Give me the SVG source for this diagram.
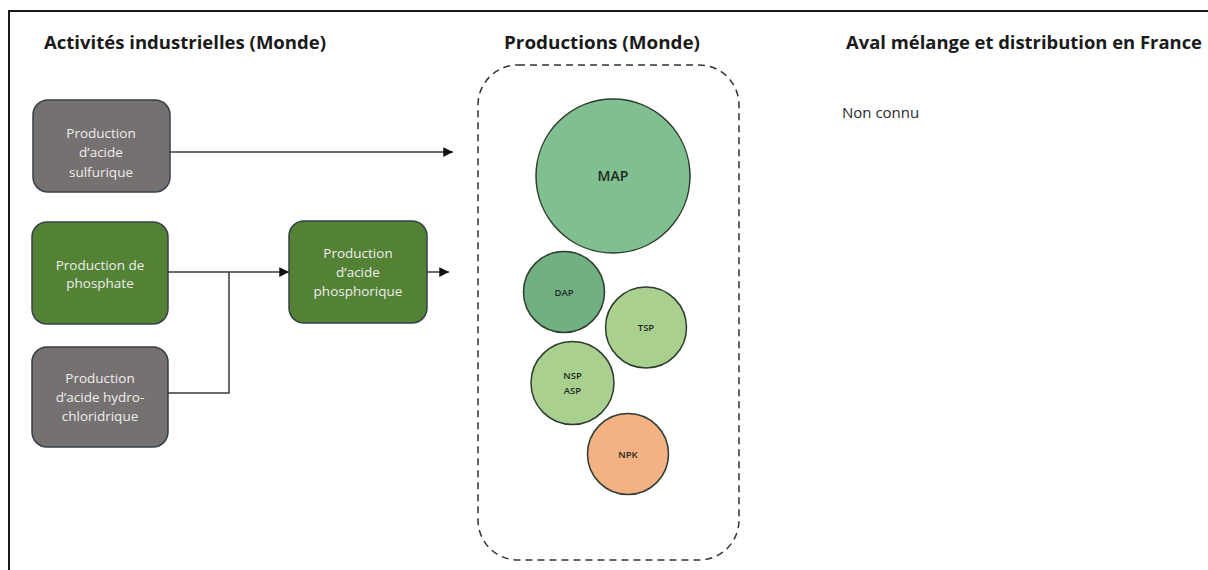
<svg xmlns="http://www.w3.org/2000/svg" width="1208" height="570" viewBox="0 0 1208 570">
  <style>
    .title { font-family: "Open Sans", "Liberation Sans", sans-serif; font-weight: bold; font-size: 18px; fill: #1a1a1a; }
    .box { stroke: #36404a; stroke-width: 1.5; }
    .gray { fill: #767171; }
    .green { fill: #548235; }
    .btxt { font-family: "Open Sans", "Liberation Sans", sans-serif; font-size: 13.5px; fill: #ededed; text-anchor: middle; }
    .circ { stroke: #2e3b30; stroke-width: 1.5; }
    .ctxt { font-family: "Open Sans", "Liberation Sans", sans-serif; font-weight: 600; fill: #1e2a1e; text-anchor: middle; }
    .conn { fill: none; stroke: #3a3a3a; stroke-width: 1.5; }
    .note { font-family: "Open Sans", "Liberation Sans", sans-serif; font-size: 15px; fill: #2a2a2a; }
  </style>
  <defs>
    <marker id="arrow" viewBox="0 0 10 10" refX="10" refY="5" markerWidth="6.5" markerHeight="6.5" orient="auto" markerUnits="strokeWidth">
      <path d="M0,0 L10,5 L0,10 z" fill="#111"/>
    </marker>
  </defs>
  <rect width="1208" height="570" fill="#ffffff"/>
  <path d="M9,570 L9,11 L1208,11" fill="none" stroke="#1a1a1a" stroke-width="2"/>

  <g id="titles">
    <text class="title" x="44" y="49" textLength="282" lengthAdjust="spacingAndGlyphs">Activités industrielles (Monde)</text>
    <text class="title" x="504" y="49" textLength="196" lengthAdjust="spacingAndGlyphs">Productions (Monde)</text>
    <text class="title" x="846" y="49" textLength="356" lengthAdjust="spacingAndGlyphs">Aval mélange et distribution en France</text>
  </g>

  <g id="connectors">
    <path class="conn" d="M170,152 L453,152" marker-end="url(#arrow)"/>
    <path class="conn" d="M168,272 L289,272" marker-end="url(#arrow)"/>
    <path class="conn" d="M168,393 L229,393 L229,272"/>
    <path class="conn" d="M427,272 L449,272" marker-end="url(#arrow)"/>
  </g>

  <g id="node-sulfurique">
    <rect class="box gray" x="33" y="100" width="137" height="92" rx="15"/>
    <text class="btxt" x="101" y="138">Production</text>
    <text class="btxt" x="101" y="157">d’acide</text>
    <text class="btxt" x="101" y="177">sulfurique</text>
  </g>
  <g id="node-phosphate">
    <rect class="box green" x="32" y="222" width="136" height="102" rx="15"/>
    <text class="btxt" x="100" y="270">Production de</text>
    <text class="btxt" x="100" y="288">phosphate</text>
  </g>
  <g id="node-hydrochloridique">
    <rect class="box gray" x="32" y="347" width="136" height="100" rx="15"/>
    <text class="btxt" x="100" y="383">Production</text>
    <text class="btxt" x="100" y="402">d’acide hydro-</text>
    <text class="btxt" x="100" y="421">chloridrique</text>
  </g>
  <g id="node-phosphorique">
    <rect class="box green" x="289" y="221" width="138" height="102" rx="15"/>
    <text class="btxt" x="358" y="258">Production</text>
    <text class="btxt" x="358" y="277">d’acide</text>
    <text class="btxt" x="358" y="296">phosphorique</text>
  </g>

  <g id="productions">
    <rect x="478" y="65" width="261" height="495" rx="40" fill="none" stroke="#333" stroke-width="1.5" stroke-dasharray="7,5"/>
  </g>
  <g id="node-map">
    <circle class="circ" cx="613" cy="176" r="77" fill="#80bf8f"/>
    <text class="ctxt" x="613" y="181" font-size="14">MAP</text>
  </g>
  <g id="node-dap">
    <circle class="circ" cx="564" cy="292" r="40.5" fill="#72b081"/>
    <text class="ctxt" x="564" y="296" font-size="9.5">DAP</text>
  </g>
  <g id="node-tsp">
    <circle class="circ" cx="646" cy="327.5" r="40.5" fill="#a9d08e"/>
    <text class="ctxt" x="646" y="331" font-size="9.5">TSP</text>
  </g>
  <g id="node-nsp-asp">
    <circle class="circ" cx="572.5" cy="383" r="41.5" fill="#a9d08e"/>
    <text class="ctxt" x="572.5" y="379" font-size="9.5">NSP</text>
    <text class="ctxt" x="572.5" y="394" font-size="9.5">ASP</text>
  </g>
  <g id="node-npk">
    <circle class="circ" cx="628" cy="454" r="40.5" fill="#f4b183"/>
    <text class="ctxt" x="628" y="458" font-size="9.5">NPK</text>
  </g>

  <g id="node-aval">
    <text class="note" x="842" y="118">Non connu</text>
  </g>
</svg>
